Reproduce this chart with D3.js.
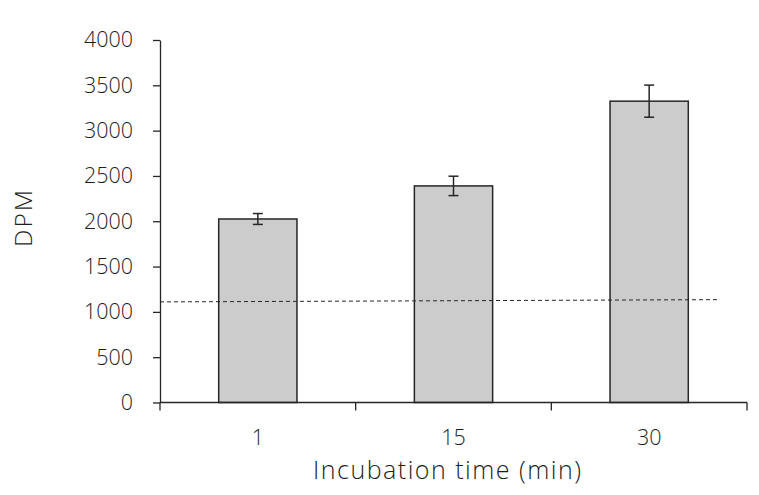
<!DOCTYPE html>
<html><head><meta charset="utf-8">
<script src="https://cdn.jsdelivr.net/npm/d3@7"></script>
<style>body{margin:0;background:#fff}svg text{font-family:"Open Sans",sans-serif;font-weight:300;fill:#1e1e1e}</style>
</head><body><svg id="c" width="759" height="495"></svg>
<script>
const categories = ["1", "15", "30"];
const values = [2025, 2390, 3325];
const errors = [60, 107, 177];
const thresholdLine = [1110, 1135];
const yTicks = [0, 500, 1000, 1500, 2000, 2500, 3000, 3500, 4000];
const xTitle = "Incubation time (min)";
const yTitle = "DPM";

(function(){
const svg = d3.select("#c");
const pl = 160, pr = 747, pt = 40, pb = 402.5;
const x = d3.scaleBand().domain(categories).range([pl, pr]).padding(0);
const y = d3.scaleLinear().domain([0, 4000]).range([pb, pt]);
const ink = "#262626";
const bw = x.bandwidth() * 0.4;

// bars
svg.selectAll("rect.bar").data(categories).join("rect")
  .attr("x", d => x(d) + x.bandwidth()/2 - bw/2)
  .attr("y", (d,i) => y(values[i]))
  .attr("width", bw)
  .attr("height", (d,i) => y(0) - y(values[i]))
  .attr("fill", "#cccccc").attr("stroke", ink).attr("stroke-width", 1.5);

// error bars
const eg = svg.append("g").attr("stroke", ink).attr("stroke-width", 1.5);
categories.forEach((c,i) => {
  const cx = x(c) + x.bandwidth()/2;
  const y1 = y(values[i] + errors[i]), y2 = y(values[i] - errors[i]);
  eg.append("line").attr("x1", cx).attr("x2", cx).attr("y1", y1).attr("y2", y2);
  eg.append("line").attr("x1", cx-5).attr("x2", cx+5).attr("y1", y1).attr("y2", y1);
  eg.append("line").attr("x1", cx-5).attr("x2", cx+5).attr("y1", y2).attr("y2", y2);
});

// threshold dashed line
svg.append("line")
  .attr("x1", pl).attr("x2", 720)
  .attr("y1", y(thresholdLine[0])).attr("y2", y(thresholdLine[1]))
  .attr("stroke", ink).attr("stroke-width", 1).attr("stroke-dasharray", "4,3");

// y axis
const ya = svg.append("g").attr("transform", `translate(${pl},0)`)
  .call(d3.axisLeft(y).tickValues(yTicks).tickFormat(d3.format("d")).tickSize(7).tickPadding(20).tickSizeOuter(0));
ya.select(".domain").attr("stroke", ink).attr("stroke-width", 1.3);
ya.selectAll(".tick line").attr("stroke", ink).attr("stroke-width", 1.3);
ya.selectAll(".tick text").style("font-size", "21.5px").style("fill", "#1e1e1e").attr("font-family", null);

// x axis
const xa = svg.append("g").attr("transform", `translate(0,${pb})`);
xa.append("line").attr("x1", pl).attr("x2", pr).attr("stroke", ink).attr("stroke-width", 1.3);
const bounds = [pl].concat(categories.map(c => x(c) + x.bandwidth()));
xa.selectAll("line.tk").data(bounds).join("line").attr("class","tk")
  .attr("x1", d => d).attr("x2", d => d).attr("y1", 0).attr("y2", 8)
  .attr("stroke", ink).attr("stroke-width", 1.3);
xa.selectAll("text").data(categories).join("text")
  .attr("x", d => x(d) + x.bandwidth()/2).attr("y", 42.5)
  .attr("text-anchor", "middle").style("font-size", "21.5px").text(d => d);

svg.append("text").attr("x", 313).attr("y", 479)
  .attr("textLength", 268).attr("lengthAdjust", "spacing")
  .style("font-size", "25px").text(xTitle);
svg.append("text").attr("transform", `translate(32,247) rotate(-90)`)
  .attr("textLength", 57).attr("lengthAdjust", "spacing")
  .style("font-size", "24.5px").text(yTitle);
})();
</script></body></html>
